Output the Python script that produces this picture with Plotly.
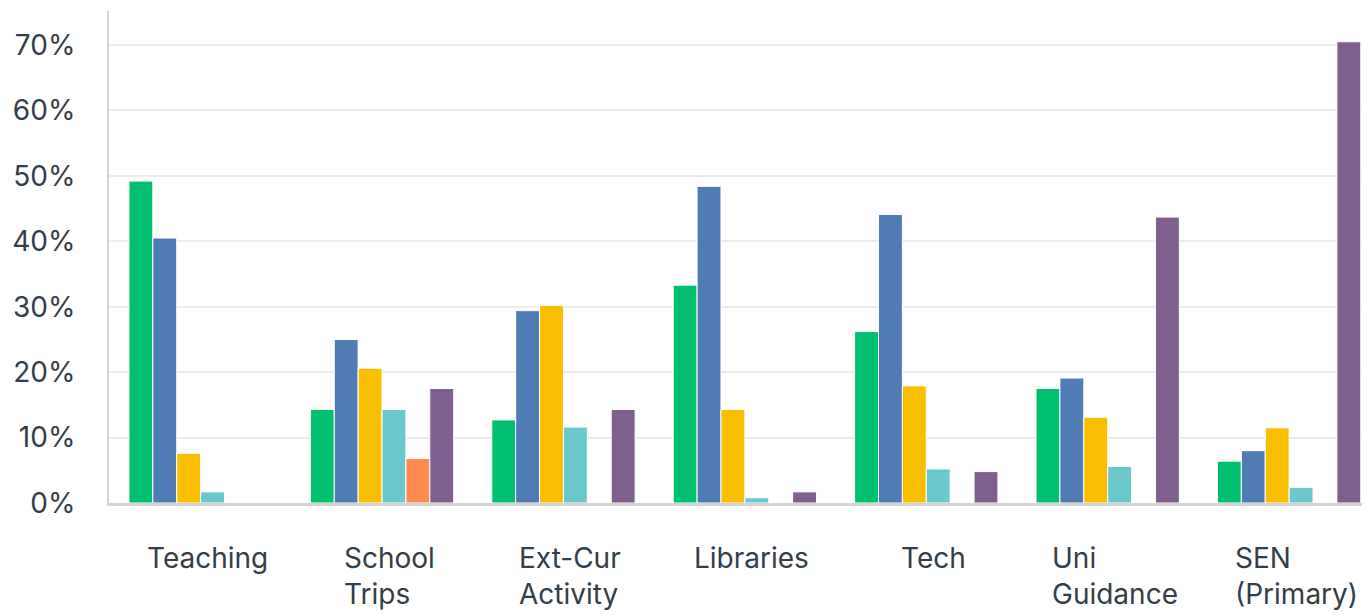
import plotly.graph_objects as go

categories = ["Teaching", "School Trips", "Ext-Cur Activity", "Libraries", "Tech", "Uni Guidance", "SEN (Primary)"]
labels = ["Teaching", "School<br>Trips", "Ext-Cur<br>Activity", "Libraries", "Tech", "Uni<br>Guidance", "SEN<br>(Primary)"]

green = [49.2, 14.3, 12.7, 33.3, 26.2, 17.5, 6.4]
blue = [40.5, 25.0, 29.4, 48.4, 44.1, 19.1, 8.0]
yellow = [7.6, 20.6, 30.2, 14.3, 17.9, 13.1, 11.5]
teal = [1.7, 14.3, 11.6, 0.8, 5.2, 5.6, 2.4]
orange = [0, 6.8, 0, 0, 0, 0, 0]
purple = [0, 17.5, 14.3, 1.7, 4.8, 43.7, 70.5]

series = [
    ("green", green, "#00bf6f"),
    ("blue", blue, "#507cb6"),
    ("yellow", yellow, "#f9be00"),
    ("teal", teal, "#6bc8cd"),
    ("orange", orange, "#ff8b4f"),
    ("purple", purple, "#7f5f90"),
]

FONT = "Inter"
TXT = "#333e48"

fig = go.Figure()
for name, vals, col in series:
    fig.add_trace(
        go.Bar(
            x=categories,
            y=vals,
            name=name,
            marker=dict(color=col, line=dict(color="white", width=1)),
        )
    )

# category labels as left-aligned text blocks under each group
for cat, lab in zip(categories, labels):
    fig.add_annotation(
        x=cat, y=0, xref="x", yref="paper",
        text=lab, showarrow=False, align="left",
        xanchor="center", yanchor="top", xshift=7, yshift=-36,
        font=dict(family=FONT, size=28, color=TXT),
    )

# page body adds an 8px offset, margins are set to compensate
fig.update_layout(
    width=1370,
    height=615,
    barmode="group",
    bargap=0.21,
    bargroupgap=0,
    showlegend=False,
    plot_bgcolor="white",
    paper_bgcolor="white",
    margin=dict(l=101, r=0, t=3, b=120),
    xaxis=dict(
        range=[-0.505, 6.49],
        showticklabels=False,
        showgrid=False,
        showline=True,
        linecolor="#d4d4d4",
        linewidth=3,
        ticks="",
    ),
    yaxis=dict(
        range=[0, 75.2],
        tickvals=[0, 10, 20, 30, 40, 50, 60, 70],
        ticktext=["0%", "10%", "20%", "30%", "40%", "50%", "60%", "70%"],
        showgrid=True,
        gridcolor="#ececec",
        gridwidth=2,
        zeroline=False,
        showline=True,
        linecolor="#d4d4d4",
        linewidth=2,
        ticklabelstandoff=26,
        tickfont=dict(family=FONT, size=28, color=TXT),
    ),
)

fig.write_html("out.html")
